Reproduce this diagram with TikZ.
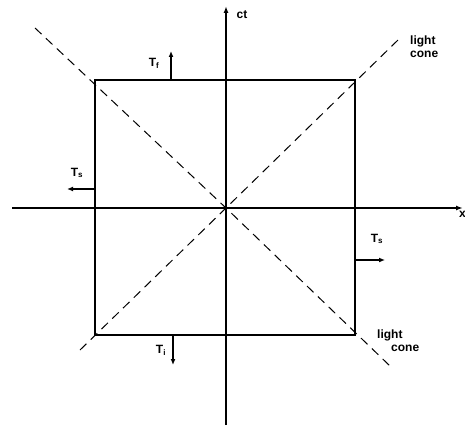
\documentclass[tikz,border=0pt]{standalone}
\usepackage{fontspec}
\setmainfont{Liberation Sans}
\usetikzlibrary{arrows.meta}
\begin{document}
\begin{tikzpicture}[x=1pt,y=-1pt,
  axis/.style={line width=1.4pt,-{Latex[length=7pt,width=5pt]}},
  box/.style={line width=2pt},
  cone/.style={line width=1pt,dash pattern=on 9pt off 6pt},
  tarrow/.style={line width=1.2pt,-{Latex[length=6pt,width=5pt]}},
  lab/.style={font=\fontsize{12}{13}\selectfont\bfseries,inner sep=0pt},
  every node/.style={inner sep=0pt}]
\useasboundingbox (0,0) rectangle (465,438);
% coordinates
\coordinate (O) at (226,208);
\coordinate (A) at (95,80);
\coordinate (B) at (355,80);
\coordinate (C) at (355,335);
\coordinate (D) at (95,335);
\coordinate (ytop) at (226,6);
\coordinate (ybot) at (226,425);
\coordinate (xl) at (12,208);
\coordinate (xr) at (463,208);
\coordinate (c1) at (35,28);
\coordinate (c2) at (398,40);
\coordinate (c3) at (390,366);
\coordinate (c4) at (80,350);
% light cone
\draw[cone] (c1) -- (O) -- (c3);
\draw[cone] (c4) -- (O) -- (c2);
% axes
\draw[axis] (ybot) -- (ytop);
\draw[axis] (xl) -- (xr);
% box
\draw[box] (A) -- (B) -- (C) -- (D) -- cycle;
% arrows
\coordinate (tf0) at (171,80);  \coordinate (tf1) at (171,51);
\coordinate (ti0) at (173,336); \coordinate (ti1) at (173,365);
\coordinate (tl0) at (95,189);  \coordinate (tl1) at (67,189);
\coordinate (tr0) at (355,260); \coordinate (tr1) at (385,260);
\draw[tarrow] (tf0) -- (tf1);
\draw[tarrow] (ti0) -- (ti1);
\draw[tarrow] (tl0) -- (tl1);
\draw[tarrow] (tr0) -- (tr1);
% labels
\node[lab] (lf) at (154,63) {T\textsubscript{f}};
\node[lab] (li) at (161,350) {T\textsubscript{i}};
\node[lab] (ll) at (77,173) {T\textsubscript{s}};
\node[lab] (lr) at (377,239) {T\textsubscript{s}};
\node[lab] (lct) at (242,15) {ct};
\node[lab,anchor=west] (lx) at (459,214) {x};
\node[lab,align=left,anchor=north west] (lc1) at (410,36) {light\\cone};
\node[lab,align=left,anchor=north west] (lc2) at (377,330) {light\\\hspace*{14pt}cone};
\end{tikzpicture}
\end{document}
